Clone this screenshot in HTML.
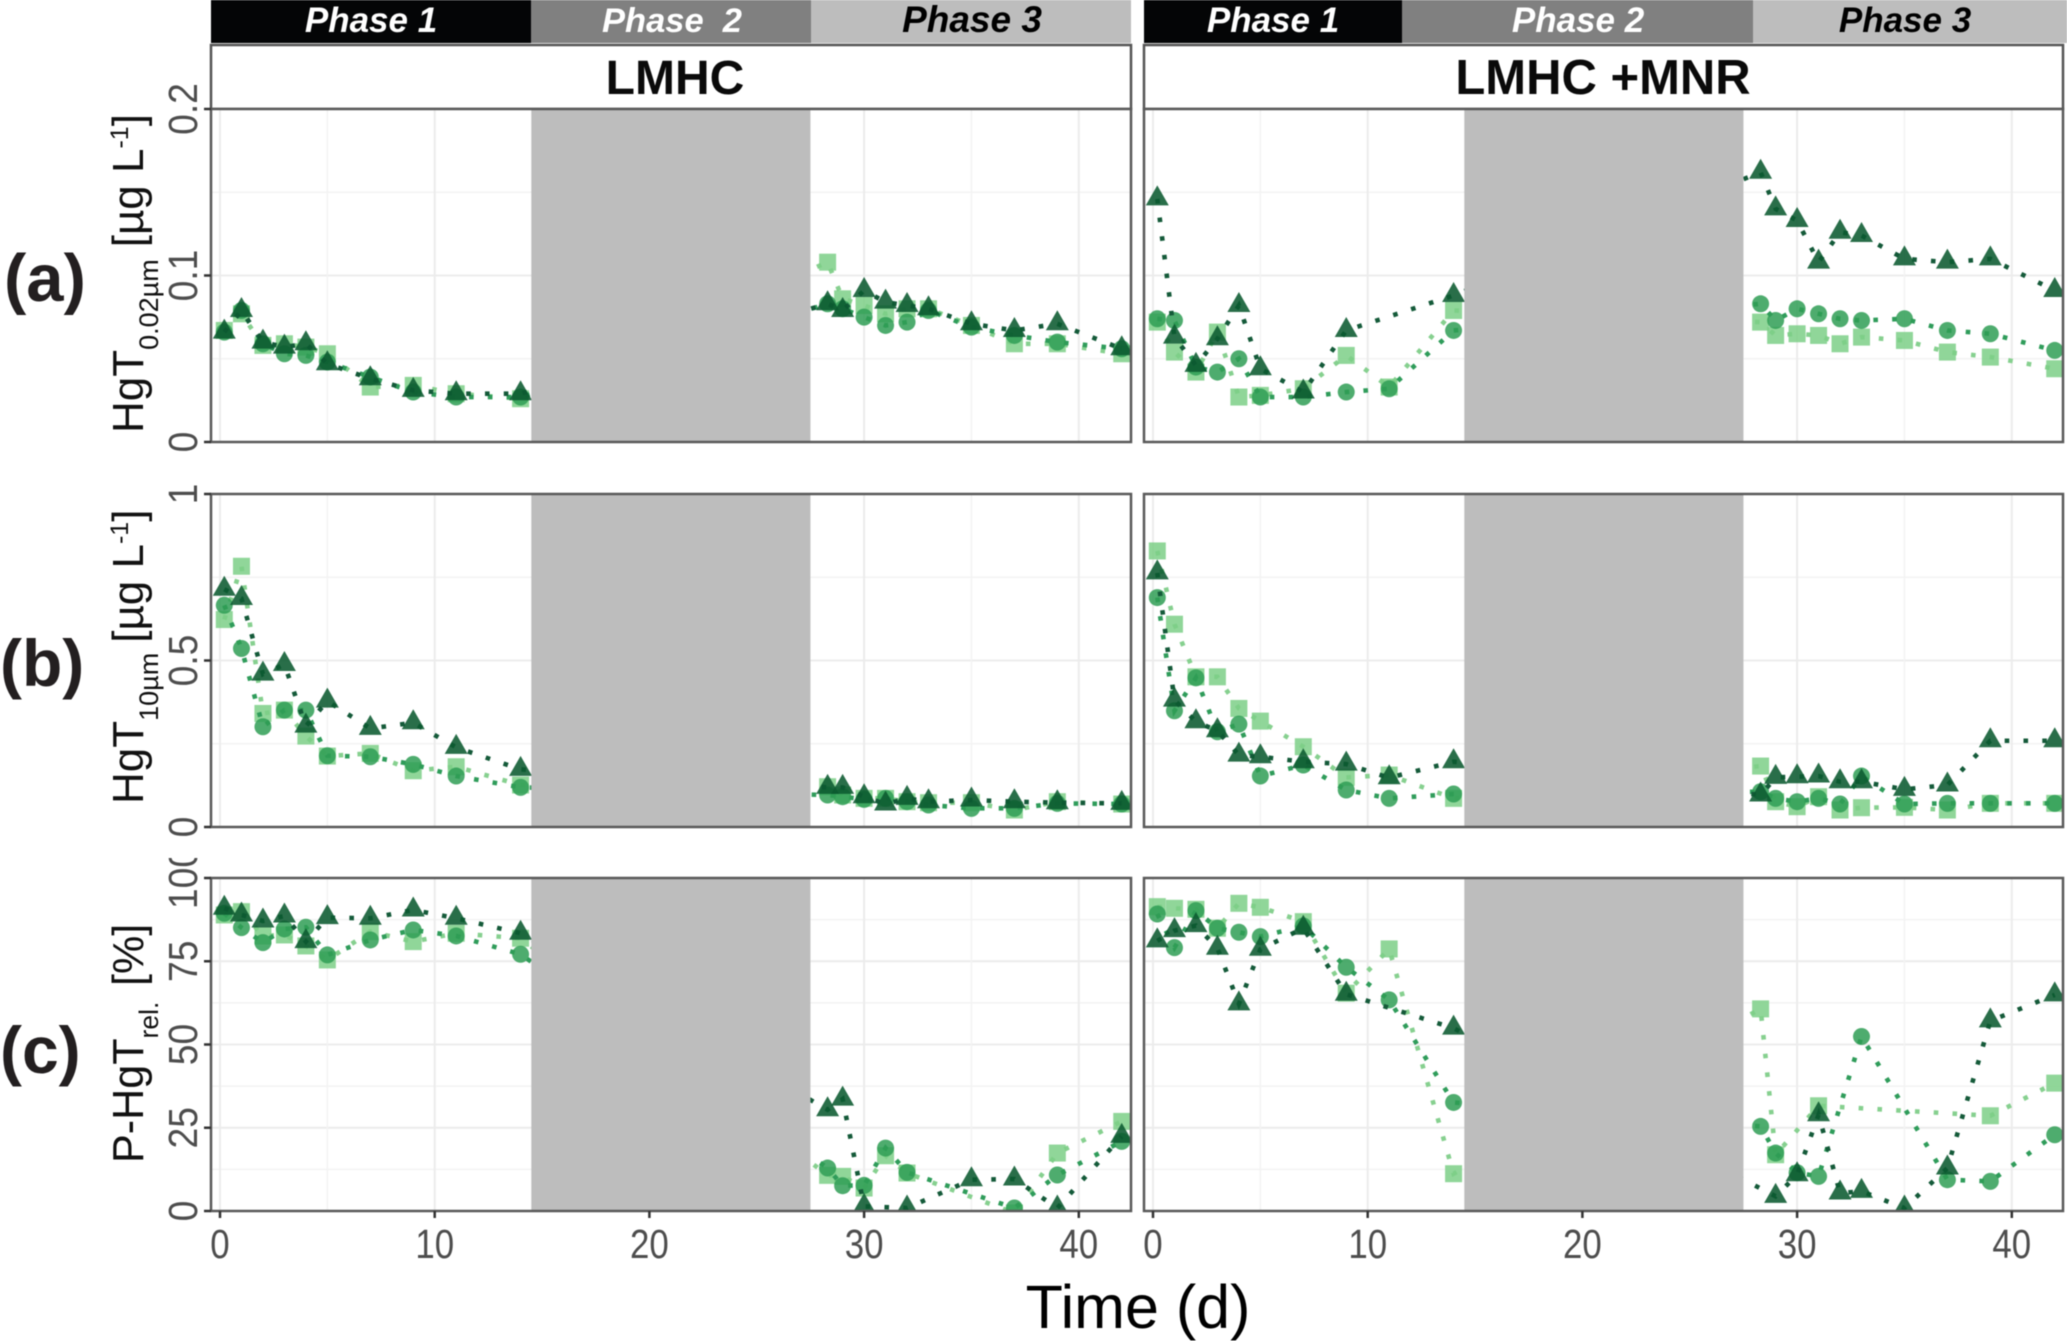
<!DOCTYPE html>
<html lang="en">
<head>
<meta charset="utf-8">
<title>HgT time series</title>
<style>
html,body{margin:0;padding:0;background:#fff;}
svg{display:block;font-family:"Liberation Sans",Arial,sans-serif;filter:blur(.4px);}
</style>
</head>
<body>
<svg id="chart" xmlns="http://www.w3.org/2000/svg" width="2067" height="1341" viewBox="0 0 2067 1341">
  <defs>
    <clipPath id="clip-100"><rect x="150" y="858" width="60" height="100"/></clipPath>
  </defs>
  <rect x="0" y="0" width="2067" height="1341" fill="#fff"/>

  <g>
    <rect x="211" y="0" width="320" height="43" fill="#040506"/>
    <rect x="531" y="0" width="280" height="43" fill="#808080"/>
    <rect x="811" y="0" width="320" height="43" fill="#bdbdbd"/>
    <text x="371" y="32" font-size="35" font-weight="bold" font-style="italic" fill="#fff" text-anchor="middle">Phase 1</text>
    <text x="672" y="32" font-size="34.5" font-weight="bold" font-style="italic" fill="#fff" text-anchor="middle" xml:space="preserve">Phase  2</text>
    <text x="972" y="32" font-size="37" font-weight="bold" font-style="italic" fill="#000" text-anchor="middle">Phase 3</text>
  </g>
  <g>
    <rect x="1144" y="0" width="258" height="43" fill="#040506"/>
    <rect x="1402" y="0" width="351" height="43" fill="#808080"/>
    <rect x="1753" y="0" width="314" height="43" fill="#bdbdbd"/>
    <text x="1273" y="32" font-size="35" font-weight="bold" font-style="italic" fill="#fff" text-anchor="middle">Phase 1</text>
    <text x="1578" y="32" font-size="35" font-weight="bold" font-style="italic" fill="#fff" text-anchor="middle">Phase 2</text>
    <text x="1905" y="32" font-size="35" font-weight="bold" font-style="italic" fill="#000" text-anchor="middle">Phase 3</text>
  </g>

  <g>
    <rect x="211" y="45" width="920" height="64" fill="#fff" stroke="#555" stroke-width="2.5"/>
    <text x="675" y="94" font-size="48" font-weight="bold" fill="#0a0a0a" text-anchor="middle">LMHC</text>
  </g>
  <g>
    <rect x="1144" y="45" width="919" height="64" fill="#fff" stroke="#555" stroke-width="2.5"/>
    <text x="1603" y="94" font-size="49" font-weight="bold" fill="#0a0a0a" text-anchor="middle">LMHC +MNR</text>
  </g>

  <g id="panels"></g>
  <g id="axes" fill="#4d4d4d"></g>

  <text x="4" y="301" font-size="67" font-weight="bold" fill="#231f20">(a)</text>
  <text x="0" y="686" font-size="66" font-weight="bold" fill="#231f20">(b)</text>
  <text x="0" y="1073" font-size="66" font-weight="bold" fill="#231f20">(c)</text>

  <text transform="translate(143,433) rotate(-90) scale(1,1)" font-size="44" fill="#111">HgT<tspan font-size="27" dy="15">0.02µm</tspan><tspan dy="-15" dx="12">[µg L</tspan><tspan font-size="25" dy="-15">-1</tspan><tspan dy="15">]</tspan></text>
  <text transform="translate(143,804) rotate(-90) scale(1,1)" font-size="44" fill="#111">HgT<tspan font-size="27" dy="15">10µm</tspan><tspan dy="-15" dx="10">[µg L</tspan><tspan font-size="25" dy="-15">-1</tspan><tspan dy="15">]</tspan></text>
  <text transform="translate(143,1163) rotate(-90) scale(.98,1)" font-size="44" fill="#111">P-HgT<tspan font-size="27" dy="15">rel.</tspan><tspan dy="-15" dx="16">[%]</tspan></text>

  <text x="1138" y="1328" font-size="61" fill="#000" text-anchor="middle">Time (d)</text>
</svg>

<script>
const days = [0.2, 1, 2, 3, 4, 5, 7, 9, 11, 14, 28.3, 29, 30, 31, 32, 33, 35, 37, 39, 42];

// HgT 0.02 µm, LMHC
const filtLeftLight = [.067, .077, .058, .059, .057, .053, .033, .034, .029, .026, .108, .086, .082, .077, .080, .080, .070, .059, .059, .053];
const filtLeftMid   = [.066, .079, .059, .053, .052, .048, .039, .030, .027, .027, .083, .080, .075, .070, .072, .079, .069, .064, .060, .056];
const filtLeftDark  = [.066, .079, .060, .057, .059, .047, .038, .031, .029, .029, .083, .079, .091, .084, .082, .080, .071, .067, .071, .056];
// HgT 0.02 µm, LMHC +MNR
const filtRightLight = [.072, .054, .042, .066, .027, .028, .032, .052, .033, .079, .072, .064, .065, .064, .059, .063, .061, .054, .051, .044];
const filtRightMid   = [.074, .073, .045, .042, .050, .027, .027, .030, .032, .067, .083, .073, .080, .077, .074, .073, .074, .067, .065, .055];
const filtRightDark  = [.146, .063, .046, .062, .082, .044, .030, .067, null, .088, .162, .140, .133, .108, .126, .124, .110, .108, .110, .091];

// HgT 10 µm, LMHC
const totalLeftLight = [.623, .783, .341, .351, .273, .213, .221, .169, .181, .126, .121, .096, .086, .086, .076, .073, .073, .051, .076, .069];
const totalLeftMid   = [.666, .536, .301, .351, .351, .214, .211, .188, .153, .119, .096, .091, .083, .086, .076, .066, .056, .056, .071, .069];
const totalLeftDark  = [.714, .686, .459, .488, .303, .378, .296, .313, .239, .173, .119, .119, .091, .069, .086, .076, .081, .076, .073, .071];
// HgT 10 µm, LMHC +MNR
const totalRightLight = [.829, .609, .451, .451, .356, .318, .241, .149, .156, .086, .183, .076, .061, .091, .051, .058, .059, .051, .071, .071];
const totalRightMid   = [.689, .349, .448, .286, .309, .153, .186, .111, .086, .099, .106, .086, .076, .086, .069, .153, .069, .071, .071, .071];
const totalRightDark  = [.763, .381, .316, .289, .216, .211, .196, .189, .148, .196, .096, .149, .151, .153, .136, .136, .113, .126, .259, .259];

// P-HgT rel., LMHC
const relLeftLight = [88.9, 89.9, 82.6, 82.9, 79.6, 75.4, 83.9, 80.9, 83.4, 81.9, 10.7, 10.4, 6.9, 16.6, 11.4, null, null, -0.6, 17.4, 26.9];
const relLeftMid   = [89.4, 85.1, 80.6, 84.7, 85.2, 76.9, 81.4, 84.4, 82.6, 77.1, 12.9, 7.6, 7.7, 18.9, 11.6, null, null, 0.9, 10.8, 20.9];
const relLeftDark  = [90.9, 88.9, 87.1, 88.6, 80.9, 88.1, 87.9, 90.4, 87.9, 83.4, 30.4, 33.6, 1.4, null, 0.9, null, 9.4, 9.6, 0.9, 22.4];
// P-HgT rel., LMHC +MNR
const relRightLight = [91.4, 90.9, 90.6, 84.9, 92.4, 91.2, 86.9, 65.4, 78.7, 11.2, 60.7, 16.9, null, 31.6, null, null, null, null, 28.6, 38.4];
const relRightMid   = [89.2, 79.1, 90.2, 84.9, 83.7, 82.4, 85.6, 73.2, 63.4, 32.6, 25.4, 17.4, 11.5, 10.4, null, 52.4, null, 9.4, 8.9, 22.9];
const relRightDark  = [81.1, 84.2, 85.7, 78.9, 62.2, 78.6, 84.9, 65.1, null, 54.9, null, 4.4, 10.9, 28.9, 5.4, 5.9, 0.9, 12.9, 57.1, 64.9];

const xTicks = [0, 10, 20, 30, 40];
const xMinorTicks = [5, 15, 25, 35];
const yTicksFilt = ['0', '0.1', '0.2'];
const yTicksTotal = ['0', '0.5', '1'];
const yTicksRel = ['0', '25', '50', '75', '100'];

const NS = 'http://www.w3.org/2000/svg';
const panelsRoot = document.getElementById('panels');
const axesRoot = document.getElementById('axes');

function svgEl(tag, parent, props) {
  const el = document.createElementNS(NS, tag);
  for (const k in props) el.setAttribute(k, props[k]);
  parent.appendChild(el);
  return el;
}

function xScale(zero) {
  return d => zero + d * 21.47;
}
function yScale(top, bottom, max) {
  return v => bottom - (v / max) * (bottom - top);
}

const seriesStyles = {
  light: {line: '#86d08f', fill: '#7ccf87', op: .85},
  mid: {line: '#2f9c5a', fill: '#2f9e55', op: .85},
  dark: {line: '#145a39', fill: '#0b5a30', op: .88}
};

function drawMarker(g, kind, cx, cy, name) {
  const s = seriesStyles[kind];
  let el;
  if (kind === 'light') {
    el = svgEl('rect', g, {x: cx - 8.5, y: cy - 8.5, width: 17, height: 17, fill: s.fill, 'fill-opacity': s.op});
  } else if (kind === 'mid') {
    el = svgEl('circle', g, {cx: cx, cy: cy, r: 8.5, fill: s.fill, 'fill-opacity': s.op});
  } else {
    const pts = [[cx, cy - 13.5], [cx + 11.5, cy + 6.5], [cx - 11.5, cy + 6.5]].map(p => p.join(',')).join(' ');
    el = svgEl('polygon', g, {points: pts, fill: s.fill, 'fill-opacity': s.op});
  }
  
  
}

function drawSeries(g, kind, values, x, y, label) {
  const s = seriesStyles[kind];
  const sg = svgEl('g', g, {});
  
  
  const pts = [];
  values.forEach((v, i) => { if (v !== null) pts.push([x(days[i]), y(v)]); });
  const line = svgEl('polyline', sg, {
    points: pts.map(p => p[0] + ',' + p[1]).join(' '),
    fill: 'none', stroke: s.line, 'stroke-width': 4.6, 'stroke-dasharray': '4.6 14.2'
  });
  
  
  values.forEach((v, i) => {
    if (v !== null) drawMarker(sg, kind, x(days[i]), y(v), label + '-point-' + kind + '-day-' + days[i]);
  });
}

function drawPanel(cfg) {
  const {label, left, right, top, bottom, zero, max, grid, minor, light, mid, dark} = cfg;
  const x = xScale(zero), y = yScale(top, bottom, max);
  const g = svgEl('g', panelsRoot, {});
  
  
  const clipId = 'clip-' + label;
  const cp = svgEl('clipPath', g, {id: clipId});
  svgEl('rect', cp, {x: left, y: top, width: right - left, height: bottom - top});
  svgEl('rect', g, {x: left, y: top, width: right - left, height: bottom - top, fill: '#fff'});

  const inner = svgEl('g', g, {'clip-path': 'url(#' + clipId + ')'});
  minor.forEach(v => {
    const l = svgEl('line', inner, {x1: left, x2: right, y1: y(v), y2: y(v), stroke: '#f3f3f3', 'stroke-width': 1.5});
    
    
  });
  grid.forEach(v => {
    const l = svgEl('line', inner, {x1: left, x2: right, y1: y(v), y2: y(v), stroke: '#ececec', 'stroke-width': 2});
    
    
  });
  xMinorTicks.forEach(v => {
    const l = svgEl('line', inner, {x1: x(v), x2: x(v), y1: top, y2: bottom, stroke: '#f3f3f3', 'stroke-width': 1.5});
    
    
  });
  xTicks.forEach(v => {
    const l = svgEl('line', inner, {x1: x(v), x2: x(v), y1: top, y2: bottom, stroke: '#ececec', 'stroke-width': 2});
    
    
  });

  drawSeries(inner, 'light', light, x, y, label);
  drawSeries(inner, 'mid', mid, x, y, label);
  drawSeries(inner, 'dark', dark, x, y, label);

  const gap = svgEl('rect', inner, {x: x(14.5), y: top, width: x(27.5) - x(14.5), height: bottom - top, fill: '#bdbdbd'});
  
  

  const frame = svgEl('rect', g, {x: left, y: top, width: right - left, height: bottom - top, fill: 'none', stroke: '#5a5a5a', 'stroke-width': 2.5});
  
  
}

function drawYAxis(name, top, bottom, labels, max) {
  const y = yScale(top, bottom, max);
  labels.forEach(lbl => {
    const v = parseFloat(lbl);
    const tick = svgEl('line', axesRoot, {x1: 204, x2: 211, y1: y(v), y2: y(v), stroke: '#333', 'stroke-width': 2.5});
    
    
    const holder = svgEl('g', axesRoot, lbl === '100' ? {'clip-path': 'url(#clip-100)'} : {});
    const t = svgEl('text', holder, {
      transform: 'translate(197,' + y(v) + ') rotate(-90) scale(.91,1)',
      'font-size': 41, 'text-anchor': 'middle', fill: '#4d4d4d'
    });
    t.textContent = lbl;
    
    
  });
}

function drawXAxis(name, zero) {
  const x = xScale(zero);
  xTicks.forEach(v => {
    const tick = svgEl('line', axesRoot, {x1: x(v), x2: x(v), y1: 1211, y2: 1218, stroke: '#333', 'stroke-width': 2.5});
    
    
    const t = svgEl('text', axesRoot, {
      transform: 'translate(' + x(v) + ',1258) scale(.85,1)',
      'font-size': 41, 'text-anchor': 'middle', fill: '#4d4d4d'
    });
    t.textContent = String(v);
    
    
  });
}

const L = {left: 211, right: 1131, zero: 220};
const R = {left: 1144, right: 2063, zero: 1153};
const rowA = {top: 109, bottom: 442, max: .2, grid: [0, .1, .2], minor: [.05, .15]};
const rowB = {top: 494, bottom: 827, max: 1, grid: [0, .5, 1], minor: [.25, .75]};
const rowC = {top: 878, bottom: 1211, max: 100, grid: [0, 25, 50, 75, 100], minor: [12.5, 37.5, 62.5, 87.5]};

drawPanel({label: 'a-lmhc', ...L, ...rowA, light: filtLeftLight, mid: filtLeftMid, dark: filtLeftDark});
drawPanel({label: 'a-lmhc-mnr', ...R, ...rowA, light: filtRightLight, mid: filtRightMid, dark: filtRightDark});
drawPanel({label: 'b-lmhc', ...L, ...rowB, light: totalLeftLight, mid: totalLeftMid, dark: totalLeftDark});
drawPanel({label: 'b-lmhc-mnr', ...R, ...rowB, light: totalRightLight, mid: totalRightMid, dark: totalRightDark});
drawPanel({label: 'c-lmhc', ...L, ...rowC, light: relLeftLight, mid: relLeftMid, dark: relLeftDark});
drawPanel({label: 'c-lmhc-mnr', ...R, ...rowC, light: relRightLight, mid: relRightMid, dark: relRightDark});

drawYAxis('y-axis-a', rowA.top, rowA.bottom, yTicksFilt, rowA.max);
drawYAxis('y-axis-b', rowB.top, rowB.bottom, yTicksTotal, rowB.max);
drawYAxis('y-axis-c', rowC.top, rowC.bottom, yTicksRel, rowC.max);
drawXAxis('x-axis-left', L.zero);
drawXAxis('x-axis-right', R.zero);
</script>
</body>
</html>
